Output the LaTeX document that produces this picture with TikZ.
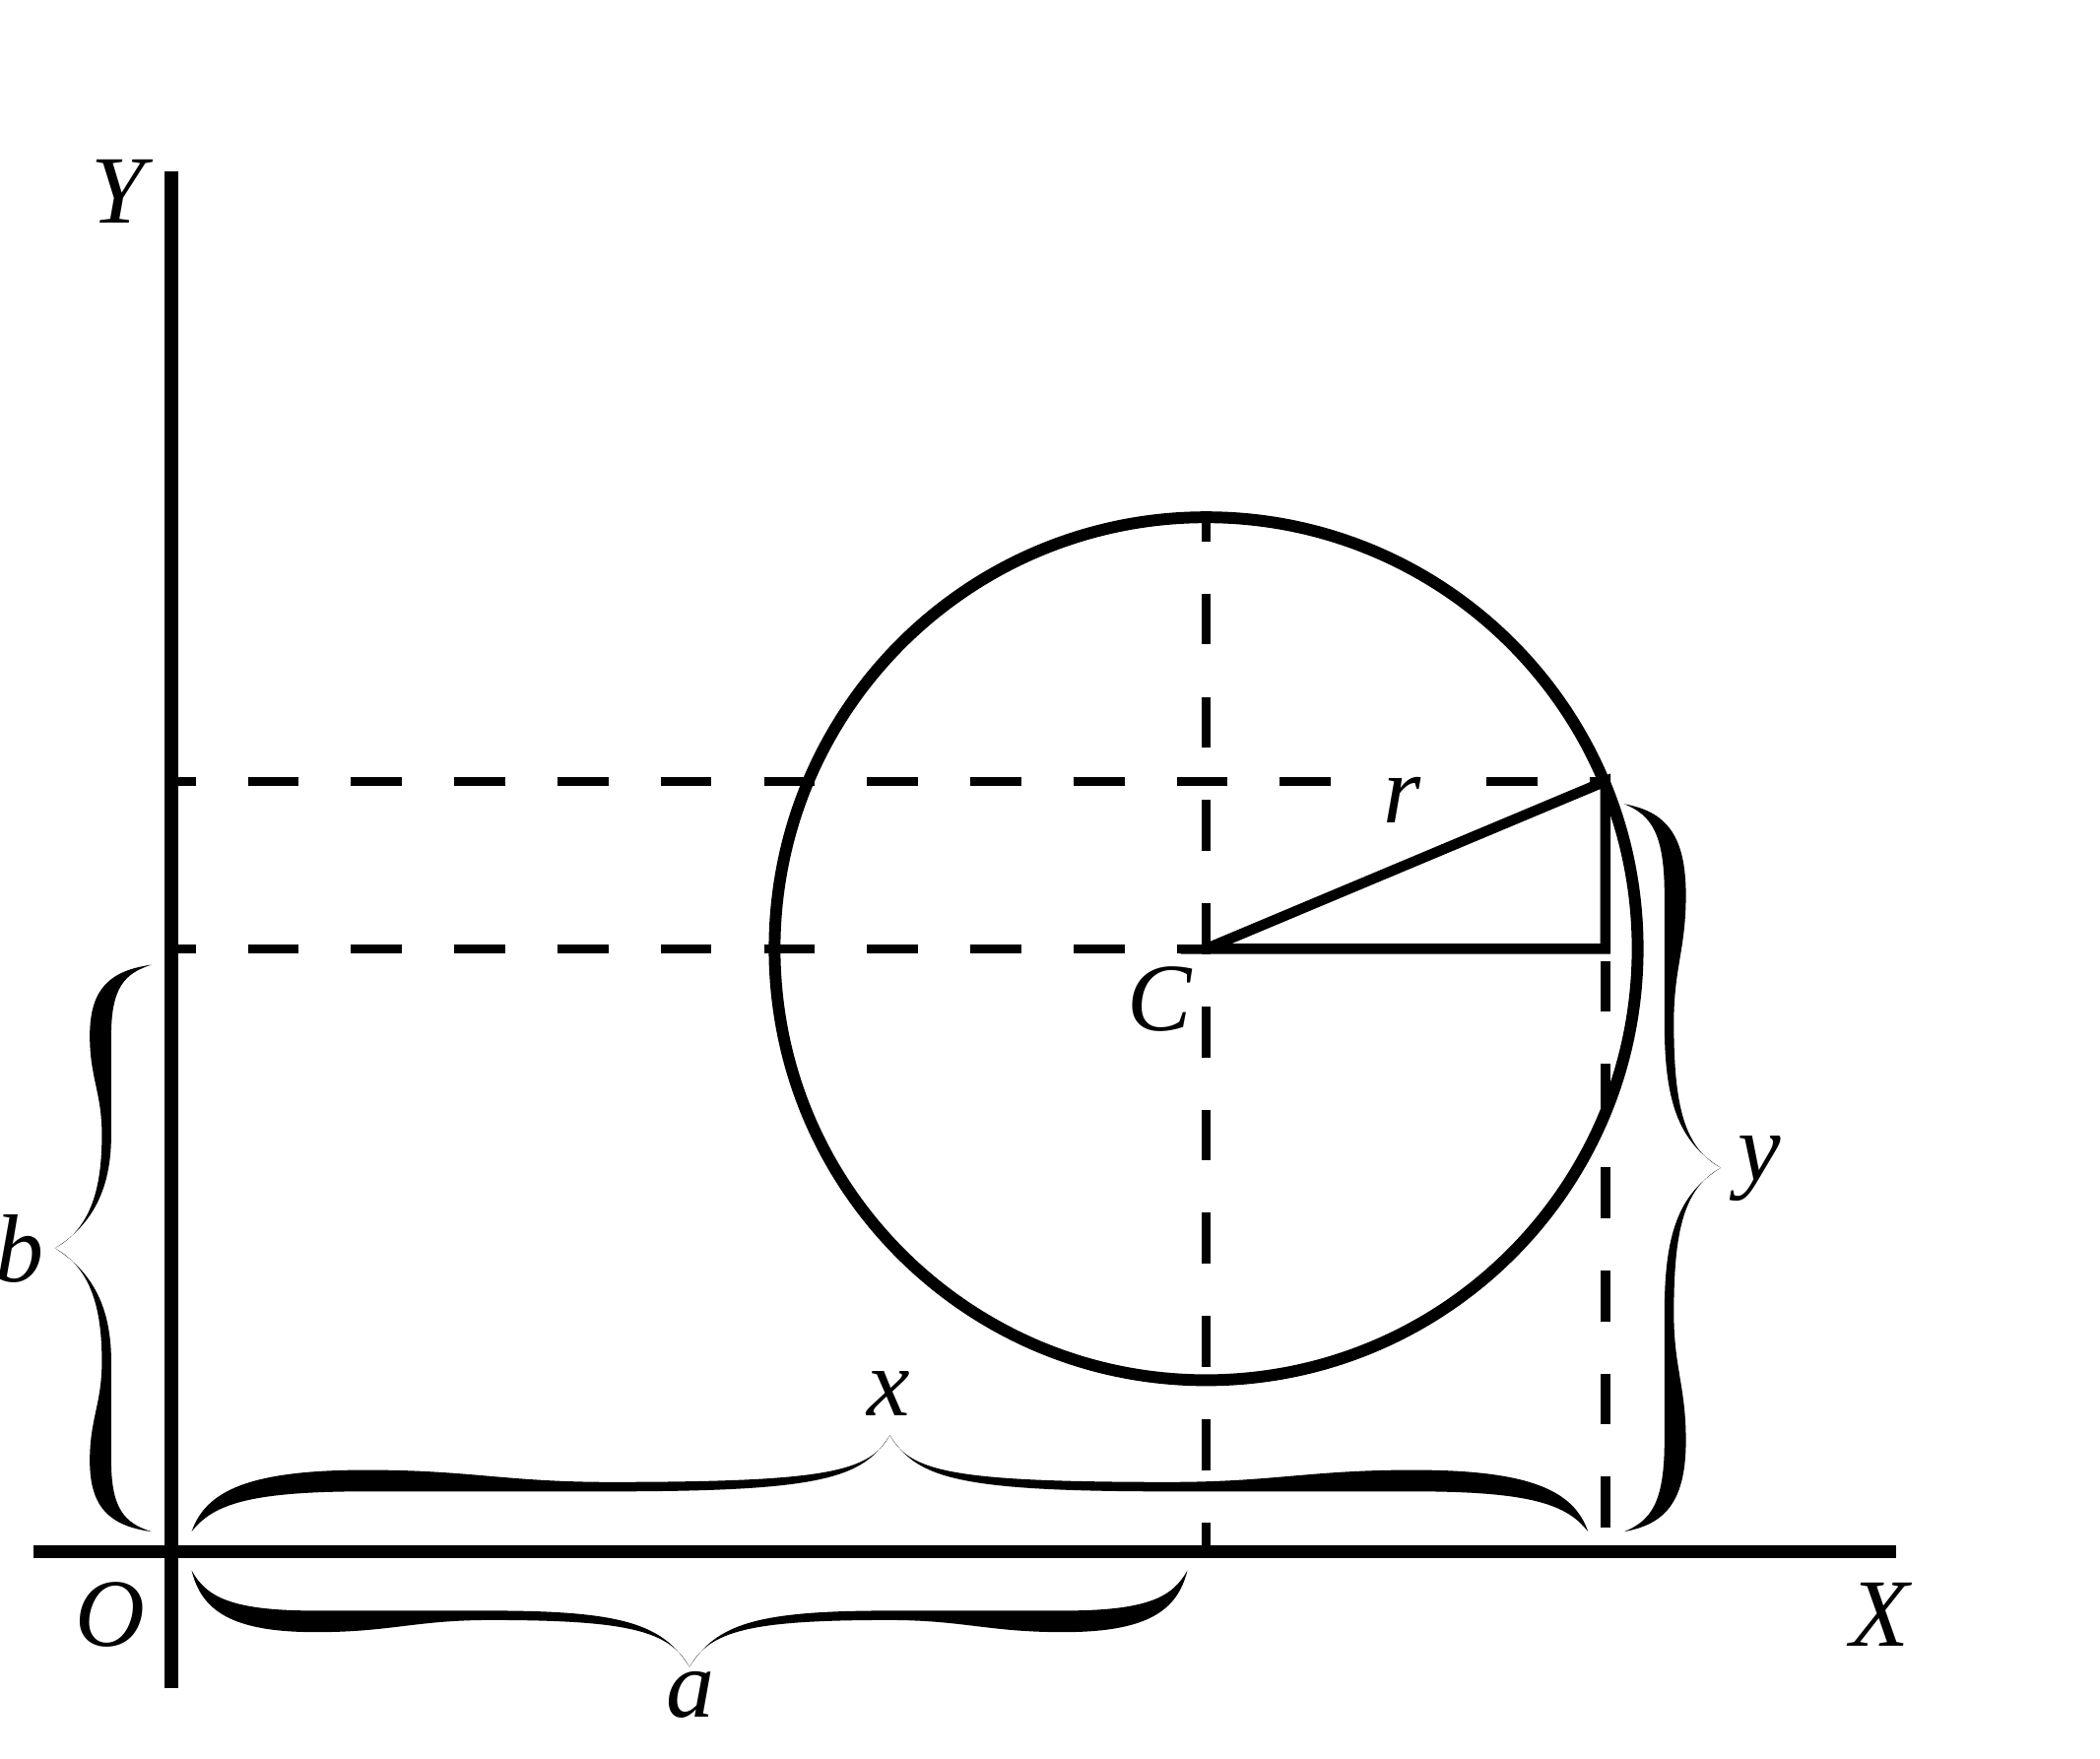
\documentclass[tikz,border=0pt]{standalone}
\usepackage{fontspec}
\setmainfont{Liberation Serif}
\newcommand{\lblSize}[0]{\fontsize{20.5}{24}\selectfont}
\tikzset{
  pics/curly/.style={code={
    \pgfmathsetmacro{\hm}{#1/2}
    \foreach \s/\o in {1/0,-1/#1} {
      \fill[shift={(\o,0)}, xscale=\s]
        (0,0) .. controls ({0.02*\hm},0.30) and ({0.08*\hm},0.46) .. ({0.25*\hm},0.46)
        .. controls ({0.40*\hm},0.46) and ({0.45*\hm},0.37) .. ({0.6*\hm},0.37)
        .. controls ({\hm-0.45},0.37) and ({\hm-0.15},0.45) .. (\hm,0.72)
        .. controls ({\hm-0.2},0.40) and ({\hm-0.5},0.30) .. ({0.6*\hm},0.30)
        .. controls ({0.45*\hm},0.30) and ({0.40*\hm},0.30) .. ({0.25*\hm},0.30)
        .. controls ({0.08*\hm},0.30) and ({0.03*\hm},0.20) .. (0,0) -- cycle;
    }
  }}
}

\begin{document}
\begin{tikzpicture}[
    axis/.style={line width=2.8pt},
    rim/.style={line width=2.5pt},
    leg/.style={line width=2.2pt},
    guide/.style={line width=1.9pt, dash pattern=on 0.38cm off 0.39cm, dash phase=0.2cm},
    lbl/.style={font=\lblSize\itshape, inner sep=0pt}]
  \useasboundingbox (-1.28,-1.54) rectangle (14.39,11.58);
  \coordinate (O) at (0,0);
  \coordinate (X-0) at (-1.03,0);
  \coordinate (X-1) at (12.87,0);
  \coordinate (Y-0) at (0,-1.02);
  \coordinate (Y-1) at (0,10.30);
  \coordinate (C) at (7.72,4.50);
  \coordinate (P) at (10.70,5.75);
  \coordinate (Q) at (10.70,4.50);
  \coordinate (C-top) at (7.72,7.72);
  \coordinate (C-foot) at (7.72,0);
  \coordinate (P-foot) at (10.70,0);
  \coordinate (C-y) at (0,4.50);
  \coordinate (P-y) at (0,5.75);

  \draw[guide] (P-y) -- (P);
  \draw[guide] (C-y) -- (C);
  \draw[guide] (C-top) -- (C-foot);
  \draw[guide] (P) -- (P-foot);
  \draw[rim] (C) circle (3.22);
  \draw[leg] (C) -- (P) -- (Q) -- cycle;
  \draw[axis] (X-0) -- (X-1);
  \draw[axis] (Y-0) -- (Y-1);

  \pic at (0.15,0.15) {curly=10.42};
  \pic[rotate=180] at (7.58,-0.14) {curly=7.43};
  \pic[rotate=90] at (-0.15,0.15) {curly=4.23};
  \pic[rotate=-90] at (10.84,5.58) {curly=5.43};

  \node[lbl] (lbl-Y) at (-0.40,10.15) {Y};
  \node[lbl] (lbl-O) at (-0.46,-0.47) {O};
  \node[lbl] (lbl-X) at (12.75,-0.47) {X};
  \node[lbl] (lbl-C) at (7.37,4.12) {C};
  \node[lbl, fill=white, inner xsep=0.2cm, inner ysep=1pt] (lbl-r) at (9.18,5.61) {r};
  \node[lbl] (lbl-x) at (5.35,1.18) {x};
  \node[lbl] (lbl-a) at (3.87,-1.07) {a};
  \node[lbl] (lbl-b) at (-1.13,2.26) {b};
  \node[lbl] (lbl-y) at (11.85,2.86) {y};
\end{tikzpicture}
\end{document}
